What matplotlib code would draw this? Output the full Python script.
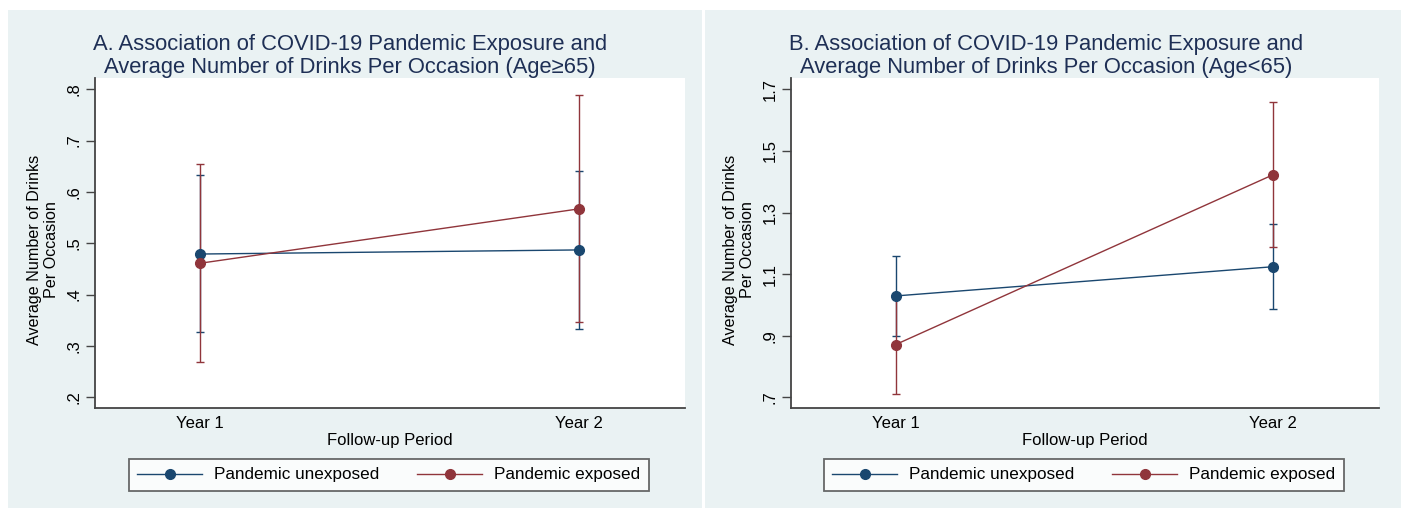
import matplotlib.pyplot as plt
from matplotlib.patches import Rectangle
from matplotlib.lines import Line2D

years = ['Year 1', 'Year 2']
x_pos = [1, 2]

# panel A (age >= 65)
a_unexp = [0.479, 0.487]
a_unexp_lo = [0.328, 0.332]
a_unexp_hi = [0.633, 0.641]
a_exp = [0.461, 0.567]
a_exp_lo = [0.269, 0.347]
a_exp_hi = [0.654, 0.789]
a_ticks = [0.2, 0.3, 0.4, 0.5, 0.6, 0.7, 0.8]
a_ticklabels = ['.2', '.3', '.4', '.5', '.6', '.7', '.8']

# panel B (age < 65)
b_unexp = [1.029, 1.124]
b_unexp_lo = [0.900, 0.987]
b_unexp_hi = [1.160, 1.263]
b_exp = [0.871, 1.423]
b_exp_lo = [0.711, 1.189]
b_exp_hi = [1.031, 1.658]
b_ticks = [0.7, 0.9, 1.1, 1.3, 1.5, 1.7]
b_ticklabels = ['.7', '.9', '1.1', '1.3', '1.5', '1.7']

BLUE = '#1a476f'
RED = '#90353b'
BG = '#eaf2f3'
TITLE_C = '#1e2f55'

plt.rcParams['font.family'] = ['Liberation Sans', 'DejaVu Sans']

W, H = 1401, 508
fig = plt.figure(figsize=(W / 100, H / 100), dpi=100)
fig.patch.set_facecolor('white')

# panel backgrounds
for x0, w in [(8, 694), (705, 696)]:
    fig.add_artist(Rectangle((x0 / W, 0), w / W, 498 / H, transform=fig.transFigure,
                             facecolor=BG, edgecolor='none', zorder=-10))


def panel(left_px, width_px, title_x, title_lines, ylim, ticks, ticklabels,
          unexp, unexp_lo, unexp_hi, exp, exp_lo, exp_hi):
    ax = fig.add_axes([left_px / W, 100 / H, width_px / W, 330 / H])
    ax.set_facecolor('white')
    for s in ['top', 'right']:
        ax.spines[s].set_visible(False)
    for s in ['left', 'bottom']:
        ax.spines[s].set_color('#444444')
        ax.spines[s].set_linewidth(1.3)

    # confidence intervals
    for mid, lo, hi, c in [(unexp, unexp_lo, unexp_hi, BLUE), (exp, exp_lo, exp_hi, RED)]:
        err = [[m - l for m, l in zip(mid, lo)], [h - m for m, h in zip(mid, hi)]]
        ax.errorbar(x_pos, mid, yerr=err, fmt='none', ecolor=c, elinewidth=1.0,
                    capsize=3, capthick=1.0, zorder=2)
    ax.plot(x_pos, unexp, color=BLUE, lw=1.0, marker='o', ms=7, zorder=3)
    ax.plot(x_pos, exp, color=RED, lw=1.0, marker='o', ms=7, zorder=3)

    ax.set_xlim(0.723, 2.28)
    ax.set_ylim(*ylim)
    ax.set_xticks(x_pos)
    ax.set_xticklabels(years, fontsize=12)
    ax.tick_params(axis='x', length=0, pad=6)
    ax.set_yticks(ticks)
    ax.set_yticklabels(ticklabels, fontsize=12, rotation=90, va='center')
    ax.tick_params(axis='y', length=6.5, width=1, color='#444444', pad=3)
    ax.set_xlabel('Follow-up Period', fontsize=12, labelpad=1)
    ax.set_ylabel('Average Number of Drinks\nPer Occasion', fontsize=11.6,
                  linespacing=1.1, va='center')
    ax.yaxis.set_label_coords(-52 / width_px, 0.48)

    # two-line title, centred over the panel
    for line, base in zip(title_lines, [50, 73]):
        fig.text(title_x / W, 1 - base / H, line, fontsize=15.8, color=TITLE_C,
                 ha='center', va='baseline')

    handles = [Line2D([], [], color=BLUE, lw=1.0, marker='o', ms=7),
               Line2D([], [], color=RED, lw=1.0, marker='o', ms=7)]
    leg = ax.legend(handles, ['Pandemic unexposed', 'Pandemic exposed'], ncol=2,
                    loc='center', bbox_to_anchor=(0.498, -0.203), fontsize=12.3,
                    handlelength=3.8, columnspacing=2.2, handletextpad=0.7,
                    fancybox=False, frameon=True, borderpad=0.5)
    leg.get_frame().set_edgecolor('#444444')
    leg.get_frame().set_linewidth(1.3)
    return ax


panel(95, 590, 350, ['A. Association of COVID-19 Pandemic Exposure and',
                     'Average Number of Drinks Per Occasion (Age\u226565)'],
      (0.179, 0.822), a_ticks, a_ticklabels,
      a_unexp, a_unexp_lo, a_unexp_hi, a_exp, a_exp_lo, a_exp_hi)
panel(791, 588, 1046, ['B. Association of COVID-19 Pandemic Exposure and',
                       'Average Number of Drinks Per Occasion (Age<65)'],
      (0.665, 1.737), b_ticks, b_ticklabels,
      b_unexp, b_unexp_lo, b_unexp_hi, b_exp, b_exp_lo, b_exp_hi)

fig.savefig('out.png', dpi=100)
